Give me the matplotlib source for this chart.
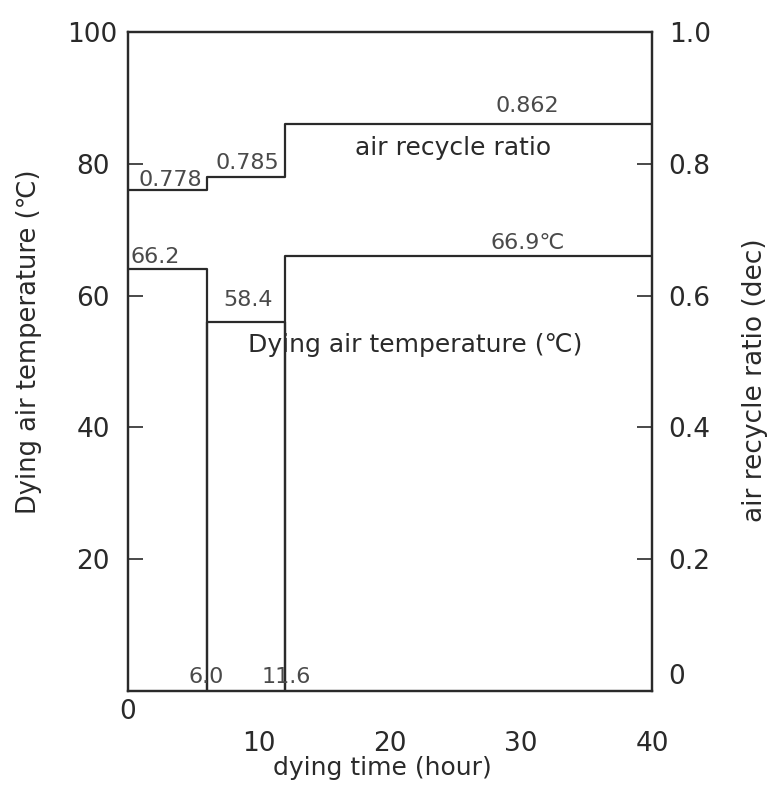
import numpy as np
import matplotlib.pyplot as plt
from matplotlib.transforms import ScaledTranslation

plt.rcParams['font.family'] = ['DejaVu Sans']

# step boundaries (hour) and levels
t_edges = [0, 6, 12, 40]
temp_levels = [64, 56, 66]
ratio_levels = [0.76, 0.78, 0.86]

temp_labels = ['66.2', '58.4', '66.9℃']
ratio_labels = ['0.778', '0.785', '0.862']
time_labels = ['6.0', '11.6']

ink = '#2a2a2a'
gray = '#4a4a4a'

fig = plt.figure(figsize=(7.67, 7.94), dpi=100)
ax = fig.add_axes([128 / 767, 103 / 794, 524 / 767, 659 / 794])
ax2 = ax.twinx()

# temperature path drops to zero between stages
tx, ty = [], []
for i, lev in enumerate(temp_levels):
    if i > 0:
        tx.append(t_edges[i]); ty.append(0)
    tx += [t_edges[i], t_edges[i + 1]]
    ty += [lev, lev]
    if i < len(temp_levels) - 1:
        tx.append(t_edges[i + 1]); ty.append(0)
ax.plot(tx, ty, color=ink, lw=1.6)

ax2.step(t_edges, ratio_levels + [ratio_levels[-1]], where='post', color=ink, lw=1.6)

ax.set_xlim(0, 40)
ax.set_ylim(0, 100)
ax2.set_ylim(0, 1.0)

ax.set_xticks([10, 20, 30, 40])
ax.set_yticks([20, 40, 60, 80, 100])
ax2.set_yticks([0.2, 0.4, 0.6, 0.8, 1.0])
ax2.set_yticklabels(['0.2', '0.4', '0.6', '0.8', '1.0'])

ax.tick_params(axis='x', length=0, pad=29, labelsize=19, colors=ink)
ax.tick_params(axis='y', direction='in', length=11, width=1.2, pad=13, labelsize=19, colors=ink)
ax2.tick_params(axis='y', direction='in', length=11, width=1.2, pad=12, labelsize=19, colors=ink)
for a in (ax, ax2):
    for s in a.spines.values():
        s.set_linewidth(1.6)
        s.set_color(ink)

# the "100" label sits a little closer to the spine
top_lbl = ax.get_yticklabels()[-1]
top_lbl.set_transform(top_lbl.get_transform() + ScaledTranslation(7 / 100, 0, fig.dpi_scale_trans))

ax.annotate('0', xy=(0, 0), xycoords='axes fraction', xytext=(0, -6),
            textcoords='offset points', ha='center', va='top', fontsize=19, color=ink)
ax2.annotate('0', xy=(1, 0), xycoords='axes fraction', xytext=(12, 10),
             textcoords='offset points', ha='left', va='center', fontsize=19, color=ink)

ax.set_xlabel('dying time (hour)', fontsize=18, color=ink)
ax.set_ylabel('Dying air temperature (℃)', fontsize=18.5, color=ink)
ax2.set_ylabel('air recycle ratio (dec)', fontsize=19, color=ink)
ax.xaxis.set_label_coords(0.485, -0.098)
ax.yaxis.set_label_coords(-0.165, 0.53)
ax2.yaxis.set_label_coords(1.172, 0.472)

ratio_pos = [(3.2, 0.775), (9.1, 0.801), (30.5, 0.888)]
for (x, y), s in zip(ratio_pos, ratio_labels):
    ax2.text(x, y, s, ha='center', va='center', fontsize=16, color=gray)
temp_pos = [(2.06, 65.9), (9.16, 59.3), (30.5, 68.0)]
for (x, y), s in zip(temp_pos, temp_labels):
    ax.text(x, y, s, ha='center', va='center', fontsize=16, color=gray)
for x, s in zip([5.95, 12.06], time_labels):
    ax.text(x, 2.1, s, ha='center', va='center', fontsize=16, color=gray)

ax2.text(24.8, 0.824, 'air recycle ratio', ha='center', va='center', fontsize=18, color=ink)
ax.text(21.9, 52.5, 'Dying air temperature (℃)', ha='center', va='center', fontsize=18, color=ink)

fig.savefig('out.png', dpi=100)
